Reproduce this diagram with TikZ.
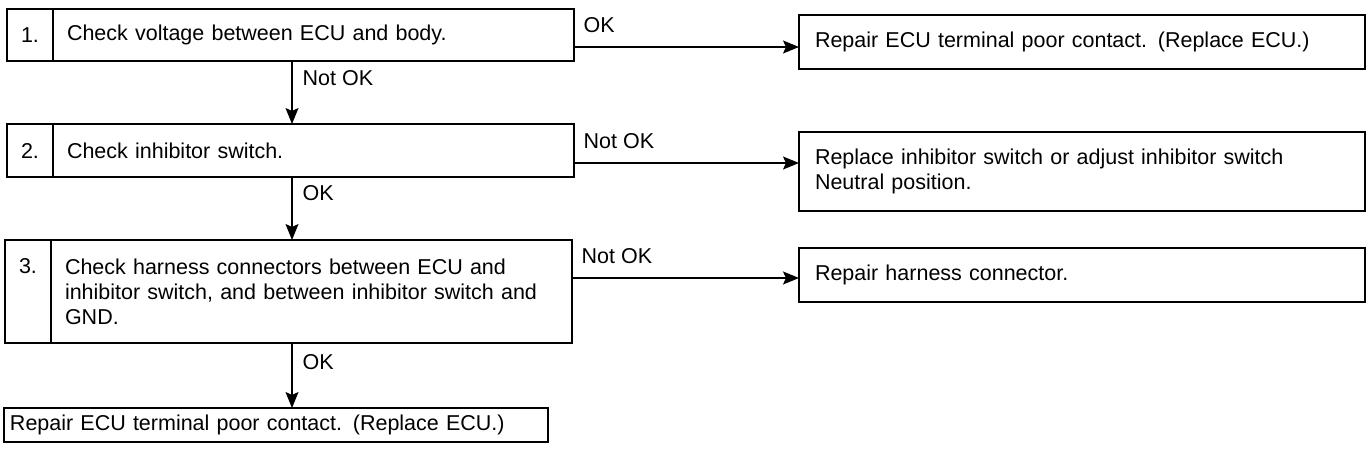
\documentclass[tikz,border=0pt]{standalone}
\usepackage{fontspec}
\setmainfont{Liberation Sans}
\usetikzlibrary{arrows.meta, positioning}
\newcommand{\stepfont}{\fontsize{10.75}{12.5}\selectfont}
\tikzset{
  box/.style={draw, line width=0.8pt, inner sep=0pt, outer sep=0pt, font=\stepfont},
  numbox/.style={box, anchor=north west, minimum width=23pt, text width=23pt, align=center},
  stepbox/.style={box, anchor=north west, align=left, inner xsep=7pt, text width=246.5pt},
  fixbox/.style={box, anchor=north west, align=left, inner xsep=8pt, text width=267pt},
  flow/.style={line width=0.7pt, -{Stealth[length=8pt, width=6.5pt, inset=1.5pt]}},
  lbl/.style={font=\stepfont, inner sep=0pt, anchor=west},
}

\begin{document}
\begin{tikzpicture}[x=0.5pt, y=-0.5pt]
  \useasboundingbox (0,0) rectangle (1370,465);

  \node[numbox, minimum height=26pt] (n1) at (7,9) {1.};
  \node[stepbox, minimum height=26pt] (s1) at (n1.north east) {Check voltage between ECU and body.};
  \node[numbox, minimum height=26.5pt] (n2) at (7,124) {2.};
  \node[stepbox, minimum height=26.5pt] (s2) at (n2.north east) {Check inhibitor switch.};
  \node[numbox, minimum height=51.5pt] (n3) at (5,240) {3.\\ \phantom{G}\\ \phantom{G}};
  \node[stepbox, minimum height=51.5pt] (s3) at (n3.north east) {Check harness connectors between ECU and\\
    inhibitor switch, and between inhibitor switch and\\GND.};
  \node[box, anchor=north west, align=left, inner xsep=3pt, text width=266pt, minimum height=17pt] (s4) at (4,408)
    {Repair ECU terminal poor contact. (Replace ECU.)};

  \node[fixbox, minimum height=27pt] (r1) at (799,15) {Repair ECU terminal poor contact. (Replace ECU.)};
  \node[fixbox, minimum height=39.5pt] (r2) at (799,132) {Replace inhibitor switch or adjust inhibitor switch\\Neutral position.};
  \node[fixbox, minimum height=27pt] (r3) at (799,248) {Repair harness connector.};

  \coordinate (sp) at (292,0);
  \coordinate (o1) at ([yshift=-6pt]s1.east);
  \coordinate (o2) at ([yshift=-6.25pt]s2.east);
  \coordinate (o3) at ([yshift=6.75pt]s3.east);

  \draw[flow] (s1.south -| sp) -- (s2.north -| sp) node[lbl, pos=0.27, xshift=5pt] {Not OK};
  \draw[flow] (s2.south -| sp) -- (s3.north -| sp) node[lbl, pos=0.25, xshift=5pt] {OK};
  \draw[flow] (s3.south -| sp) -- (s4.north -| sp) node[lbl, pos=0.3, xshift=5pt] {OK};

  \draw[flow] (o1) -- (o1 -| r1.west) node[lbl, pos=0, xshift=4.5pt, yshift=11pt] {OK};
  \draw[flow] (o2) -- (o2 -| r2.west) node[lbl, pos=0, xshift=4.5pt, yshift=11pt] {Not OK};
  \draw[flow] (o3) -- (o3 -| r3.west) node[lbl, pos=0, xshift=4.5pt, yshift=11pt] {Not OK};
\end{tikzpicture}
\end{document}
